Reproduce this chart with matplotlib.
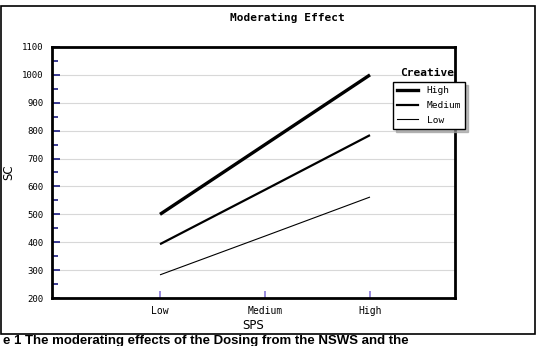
import matplotlib
matplotlib.use("Agg")
import matplotlib.pyplot as plt
from matplotlib.lines import Line2D
from matplotlib.patches import Rectangle

categories = ["Low", "Medium", "High"]
series_names = ["High", "Medium", "Low"]
high_vals = [500, 750, 1000]
medium_vals = [393, 588, 784]
low_vals = [283, 422, 562]
y_ticks = [200, 300, 400, 500, 600, 700, 800, 900, 1000, 1100]

W, H = 545, 346
fig = plt.figure(figsize=(W / 100, H / 100), dpi=100)

def fx(px):
    return px / W

def fy(py):
    return 1 - py / H

# outer frame
fig.patches.append(Rectangle((fx(1), fy(334)), fx(534), 328 / H, transform=fig.transFigure,
                             fill=False, edgecolor="black", linewidth=1.2))

ax = fig.add_axes([fx(52), fy(298), fx(455 - 52), (298 - 47) / H])
x = [1, 2, 3]
styles = [(high_vals, 2.4), (medium_vals, 1.6), (low_vals, 0.8)]
for (vals, lw), name in zip(styles, series_names):
    ax.plot(x, vals, color="black", linewidth=lw, label=name, solid_capstyle="butt")

ax.set_xlim(1 - 108 / 105, 1 + 295 / 105)
ax.set_ylim(200, 1100)
ax.set_yticks(y_ticks)
ax.set_yticks(range(250, 1100, 100), minor=True)
ax.set_xticks(x)
ax.set_xticklabels(categories)
mono = "DejaVu Sans Mono"
for lab in ax.get_yticklabels() + ax.get_xticklabels():
    lab.set_fontfamily(mono)
    lab.set_fontsize(6.5)
ax.tick_params(axis="y", which="major", direction="in", length=6, width=1.2, color="#1a1a80", pad=6)
ax.tick_params(axis="y", which="minor", direction="in", length=4, width=1.2, color="#1a1a80")
ax.tick_params(axis="x", which="major", direction="in", length=5, width=1.2, color="#8878d8", pad=6)
ax.tick_params(axis="x", labelsize=7)
ax.grid(axis="y", which="major", color="#d8d8d8", linewidth=0.8)
ax.set_axisbelow(True)
for s in ax.spines.values():
    s.set_linewidth(2)
    s.set_color("black")

ax.set_xlabel("SPS", fontsize=8.5, labelpad=2)
fig.text(fx(9), fy(172), "SC", rotation=90, ha="center", va="center", fontsize=8.5)

fig.text(fx(287), fy(18), "Moderating Effect", ha="center", va="center",
         fontsize=8, fontfamily=mono, fontweight="bold")

handles = [Line2D([], [], color="black", linewidth=lw) for _, lw in styles]
leg = fig.legend(handles, series_names, loc="upper left",
                 bbox_to_anchor=(fx(393), fy(82)), frameon=True, fancybox=False,
                 shadow={"color": "#a0a0a0", "alpha": 0.7}, edgecolor="black",
                 prop={"family": mono, "size": 6.8}, handlelength=2.2,
                 borderpad=0.45, labelspacing=0.6, handletextpad=0.9, borderaxespad=0)
leg.get_frame().set_linewidth(1.0)
fig.text(fx(427), fy(73), "Creative", ha="center", va="center",
         fontsize=8, fontfamily=mono, fontweight="bold")

fig.text(fx(3), fy(344), "e 1 The moderating effects of the Dosing from the NSWS and the",
         ha="left", va="baseline", fontsize=9.5, fontweight="bold", fontfamily="Liberation Sans")

fig.savefig("out.png", dpi=100)
